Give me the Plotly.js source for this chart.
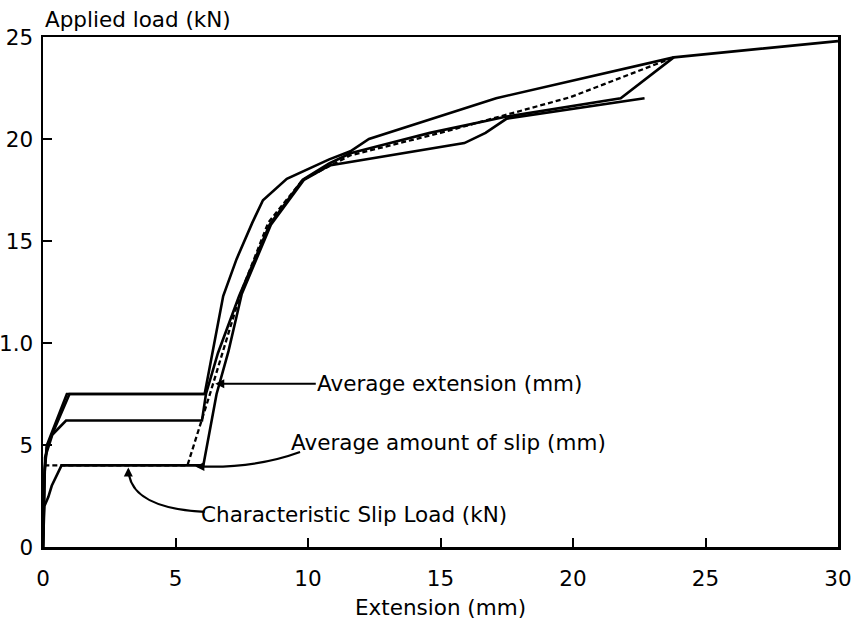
<!DOCTYPE html>
<html>
<head>
<meta charset="utf-8">
<script src="https://cdn.plot.ly/plotly-3.0.1.min.js"></script>
<style>html,body{margin:0;padding:0;background:#fff}#chart{width:863px;height:621px}</style>
</head>
<body>
<div id="chart"></div>
<script>
// Test curve A (plateau at 7.5 kN)
var curveA_x = [0, 0.05, 0.15, 0.9, 6.1, 6.45, 6.8, 7.3, 7.9, 8.3, 9.2, 10.8, 11.6, 12.3, 17.1, 23.8, 30];
var curveA_y = [0, 3.5, 5.0, 7.5, 7.5, 10, 12.3, 14.1, 15.9, 17, 18.05, 19, 19.4, 20, 22, 24, 24.8];
// Test curve B (plateau at 6.2 kN)
var curveB_x = [0, 0.08, 0.35, 0.87, 6.0, 6.15, 6.6, 7.4, 8.55, 9.8, 10.8, 11.6, 13.1, 14.6, 17.5, 21.8, 23.8];
var curveB_y = [0, 4.4, 5.5, 6.2, 6.2, 7.5, 9.5, 12.3, 15.8, 18, 18.8, 19.3, 19.8, 20.3, 21.1, 22, 24];
// Test curve C (plateau at 4.0 kN)
var curveC_x = [0, 0.05, 0.2, 0.33, 0.7, 6.05, 6.55, 7.0, 7.5, 8.6, 9.85, 10.8, 15.9, 16.7, 17.5, 22.7];
var curveC_y = [0, 2.0, 2.45, 3.0, 4.0, 4.0, 7.5, 9.6, 12.4, 15.8, 18, 18.7, 19.8, 20.3, 21, 22];
// Test curve D (second plateau at 7.5 kN)
var curveD_x = [0, 0.06, 0.14, 1.0, 6.1];
var curveD_y = [0, 3.8, 4.9, 7.5, 7.5];
// Average curve (dashed)
var avg_x = [0.05, 5.45, 6.3, 7.45, 8.5, 9.8, 11.6, 15.0, 19.9, 23.8];
var avg_y = [4.0, 4.0, 7.5, 12.4, 15.9, 18, 19.2, 20.3, 22.05, 24];

var xTicks = [0, 5, 10, 15, 20, 25, 30];
var yTicks = [0, 5, 10, 15, 20, 25];
var yTickText = ['0', '5', '1.0', '15', '20', '25'];

var solid = {color: '#000', width: 2.6};
var traces = [
  {x: curveA_x, y: curveA_y, mode: 'lines', line: solid},
  {x: curveB_x, y: curveB_y, mode: 'lines', line: solid},
  {x: curveC_x, y: curveC_y, mode: 'lines', line: solid},
  {x: curveD_x, y: curveD_y, mode: 'lines', line: solid},
  {x: avg_x, y: avg_y, mode: 'lines', line: {color: '#000', width: 2.3, dash: '5px,3px'}}
];

var F = 'DejaVu Sans, Verdana, sans-serif';
var FS = 21.5;
var layout = {
  width: 863, height: 621,
  margin: {l: 43, r: 25, t: 37, b: 74},
  paper_bgcolor: '#fff', plot_bgcolor: '#fff',
  showlegend: false,
  font: {family: F, size: FS, color: '#000'},
  xaxis: {
    range: [0, 30], tickvals: xTicks, ticks: 'inside', ticklen: 9, tickwidth: 2, tickcolor: '#000',
    showline: true, linewidth: 2.5, linecolor: '#000', mirror: true, showgrid: false, zeroline: false,
    ticklabelstandoff: 11,
    title: {text: 'Extension (mm)', font: {family: F, size: FS}, standoff: 10}
  },
  yaxis: {
    range: [0, 25], tickvals: yTicks, ticktext: yTickText, ticks: 'inside', ticklen: 9, tickwidth: 2, tickcolor: '#000',
    showline: true, linewidth: 2.5, linecolor: '#000', mirror: true, showgrid: false, zeroline: false,
    ticklabelstandoff: 3
  },
  shapes: [
    {type: 'path', xref: 'x', yref: 'y', path: 'M 9.7,4.66 Q 8.0,3.85 5.9,3.95', line: {color: '#000', width: 2.2}},
    {type: 'path', xref: 'x', yref: 'y', path: 'M 6.1,1.72 Q 3.5,1.9 3.25,3.5', line: {color: '#000', width: 2.2}}
  ],
  annotations: [
    {xref: 'paper', yref: 'paper', x: 0, y: 1, xanchor: 'left', yanchor: 'bottom', yshift: 3,
     text: 'Applied load (kN)', showarrow: false, font: {family: F, size: FS}},
    {x: 6.5, y: 8.0, axref: 'x', ayref: 'y', ax: 15.35, ay: 8.0, text: 'Average extension (mm)',
     showarrow: true, arrowhead: 2, arrowsize: 0.9, arrowwidth: 2, arrowcolor: '#000', font: {family: F, size: FS}},
    {x: 15.3, y: 5.1, text: 'Average amount of slip (mm)', showarrow: false, font: {family: F, size: FS}},
    {x: 11.72, y: 1.57, text: 'Characteristic Slip Load (kN)', showarrow: false, font: {family: F, size: FS}},
    {x: 5.75, y: 3.95, ax: 8, ay: 0, text: '', showarrow: true, arrowhead: 2, arrowsize: 0.9, arrowwidth: 2, arrowcolor: '#000'},
    {x: 3.22, y: 3.9, ax: 0, ay: 9, text: '', showarrow: true, arrowhead: 2, arrowsize: 0.9, arrowwidth: 2, arrowcolor: '#000'}
  ]
};

Plotly.newPlot('chart', traces, layout, {displayModeBar: false, staticPlot: true});
</script>
</body>
</html>
